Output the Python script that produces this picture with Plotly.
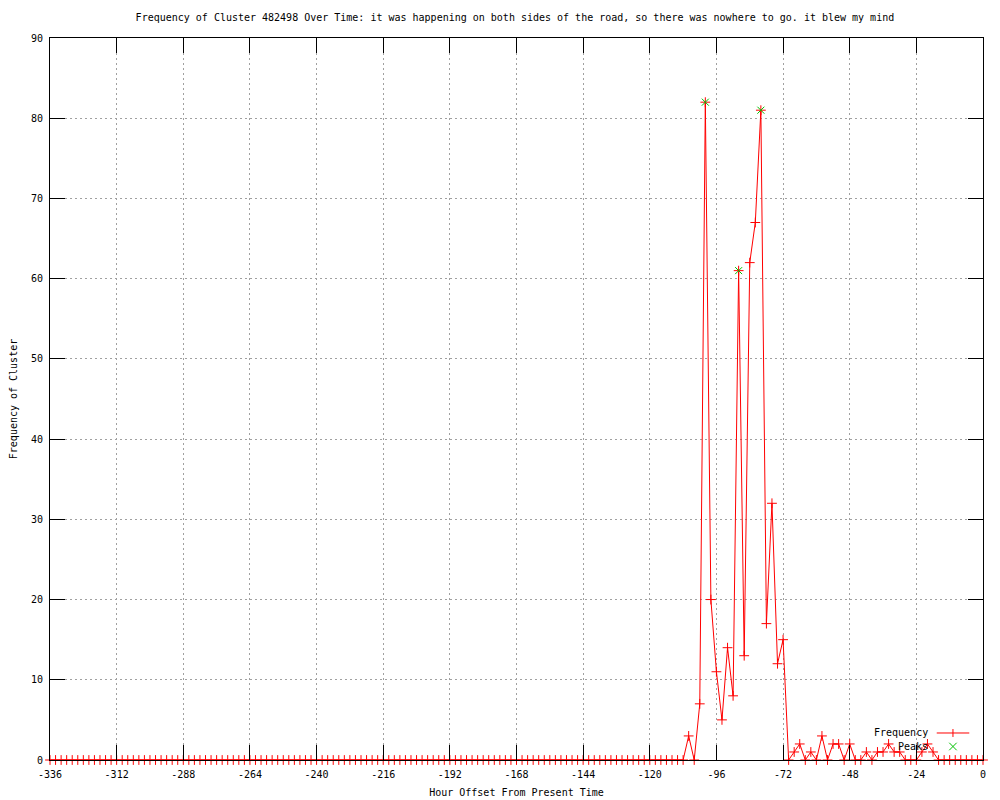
import plotly.graph_objects as go

# ---- data ----
hours = list(range(-336, 1, 2))

frequency = [
    # -336 .. -298
    0, 0, 0, 0, 0, 0, 0, 0, 0, 0, 0, 0, 0, 0, 0, 0, 0, 0, 0, 0,
    # -296 .. -258
    0, 0, 0, 0, 0, 0, 0, 0, 0, 0, 0, 0, 0, 0, 0, 0, 0, 0, 0, 0,
    # -256 .. -218
    0, 0, 0, 0, 0, 0, 0, 0, 0, 0, 0, 0, 0, 0, 0, 0, 0, 0, 0, 0,
    # -216 .. -178
    0, 0, 0, 0, 0, 0, 0, 0, 0, 0, 0, 0, 0, 0, 0, 0, 0, 0, 0, 0,
    # -176 .. -138
    0, 0, 0, 0, 0, 0, 0, 0, 0, 0, 0, 0, 0, 0, 0, 0, 0, 0, 0, 0,
    # -136 .. -108
    0, 0, 0, 0, 0, 0, 0, 0, 0, 0, 0, 0, 0, 0, 0,
    # -106 .. -72
    3, 0, 7, 82, 20, 11, 5, 14, 8, 61, 13, 62, 67, 81, 17, 32, 12, 15,
    # -70 .. -18
    0, 1, 2, 0, 1, 0, 3, 0, 2, 2, 0, 2, 0, 0, 1, 0, 1, 1, 2, 1, 1, 0, 0, 0, 1, 2, 1,
    # -16 .. 0
    0, 0, 0, 0, 0, 0, 0, 0, 0,
]

peak_hours = [-100, -88, -80]
peak_values = [82, 61, 81]

x_tick_vals = [-336, -312, -288, -264, -240, -216, -192, -168, -144, -120, -96, -72, -48, -24, 0]
x_tick_text = ["-336", "-312", "-288", "-264", "-240", "-216", "-192", "-168", "-144",
               "-120", "-96", "-72", "-48", "-24", "0"]
y_tick_vals = [0, 10, 20, 30, 40, 50, 60, 70, 80, 90]

title_text = ("Frequency of Cluster 482498 Over Time: it was happening on both sides "
              "of the road, so there was nowhere to go. it blew my mind")

FONT = "DejaVu Sans Mono"
FS = 10
RED = "#ff0000"
GREEN = "#00c000"

fig = go.Figure()

fig.add_trace(go.Scatter(
    x=hours, y=frequency, mode="lines+markers", name="Frequency",
    line=dict(color=RED, width=1),
    marker=dict(symbol="cross-thin-open", size=7, color=RED,
                line=dict(color=RED, width=1)),
    cliponaxis=False, showlegend=False,
))

fig.add_trace(go.Scatter(
    x=peak_hours, y=peak_values, mode="markers", name="Peaks",
    marker=dict(symbol="x-thin-open", size=7, color=GREEN,
                line=dict(color=GREEN, width=1)),
    cliponaxis=False, showlegend=False,
))

# ---- gnuplot-style legend (text left of sample) ----
leg_font = dict(family=FONT, size=FS, color="black")
fig.add_annotation(xref="paper", yref="paper", x=0.943, y=0.0374, text="Frequency",
                   showarrow=False, xanchor="right", yanchor="middle", font=leg_font)
fig.add_annotation(xref="paper", yref="paper", x=0.943, y=0.0187, text="Peaks",
                   showarrow=False, xanchor="right", yanchor="middle", font=leg_font)
# Frequency sample line with + marker
fig.add_shape(type="line", xref="paper", yref="paper", x0=0.9504, x1=0.9853,
              y0=0.0374, y1=0.0374, line=dict(color=RED, width=1))
fig.add_shape(type="line", xref="paper", yref="paper", x0=0.9678, x1=0.9678,
              y0=0.0374 - 0.0055, y1=0.0374 + 0.0055, line=dict(color=RED, width=1))
# Peaks sample green x
dx, dy = 0.0040, 0.0052
fig.add_shape(type="line", xref="paper", yref="paper", x0=0.9678 - dx, x1=0.9678 + dx,
              y0=0.0187 - dy, y1=0.0187 + dy, line=dict(color=GREEN, width=1))
fig.add_shape(type="line", xref="paper", yref="paper", x0=0.9678 - dx, x1=0.9678 + dx,
              y0=0.0187 + dy, y1=0.0187 - dy, line=dict(color=GREEN, width=1))

axis_common = dict(
    showline=True, linecolor="black", linewidth=1, mirror="ticks",
    ticks="inside", ticklen=15, tickcolor="black", tickwidth=1,
    showgrid=True, gridcolor="#a0a0a0", gridwidth=1, griddash="2px,3px",
    zeroline=False, automargin=False,
    tickfont=dict(family=FONT, size=FS, color="black"),
)

# page body has an 8px margin, so the figure is sized/positioned to compensate
fig.update_layout(
    width=992, height=792,
    paper_bgcolor="white", plot_bgcolor="white",
    margin=dict(l=42, r=17, t=30, b=40, autoexpand=False),
    title=dict(text=title_text, x=0.511, xanchor="center", y=0.9874, yanchor="middle",
               automargin=False,
               font=dict(family=FONT, size=FS, color="black")),
    xaxis=dict(range=[-336, 0], tickvals=x_tick_vals, ticktext=x_tick_text,
               ticklabelstandoff=5,
               title=dict(text="Hour Offset From Present Time", standoff=9,
                          font=dict(family=FONT, size=FS, color="black")),
               **axis_common),
    yaxis=dict(range=[0, 90], tickvals=y_tick_vals, ticklabelstandoff=4,
               title=dict(text="Frequency of Cluster", standoff=11,
                          font=dict(family=FONT, size=FS, color="black")),
               **axis_common),
    showlegend=False,
)

fig.write_html("out.html")
